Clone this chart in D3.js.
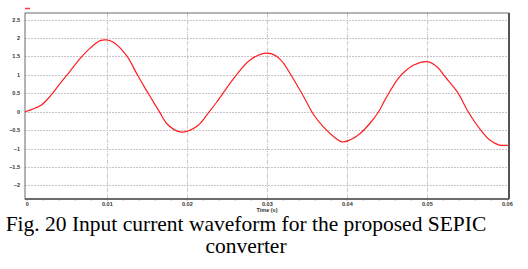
<!DOCTYPE html>
<html>
<head>
<meta charset="utf-8">
<script src="https://cdn.jsdelivr.net/npm/d3@7"></script>
<style>
  body { margin: 0; background: #fff; }
  svg { display: block; }
</style>
</head>
<body>
<div id="chart"></div>
<script>
// time (s)
const timeS = [-0.0003, 0.0016, 0.0028, 0.0041, 0.0053, 0.0066, 0.0078, 0.0091, 0.0099, 0.0108,
  0.0124, 0.0137, 0.0146, 0.0156, 0.0166, 0.0174, 0.0183, 0.0191, 0.0201, 0.0214,
  0.0226, 0.0237, 0.0257, 0.0278, 0.0299, 0.0312, 0.0320, 0.0328, 0.0345, 0.0358, 0.0370,
  0.0383, 0.0393, 0.0403, 0.0416, 0.0428, 0.0439, 0.0447, 0.0462, 0.0472, 0.0483, 0.0500,
  0.0512, 0.0522, 0.0537, 0.0551, 0.0566, 0.0578, 0.0589, 0.0601]
// input current (A)
const current = [0, 0.16, 0.41, 0.77, 1.09, 1.45, 1.72, 1.93, 1.95, 1.88,
  1.52, 1.02, 0.68, 0.32, -0.04, -0.32, -0.48, -0.55, -0.52, -0.36,
  -0.04, 0.27, 0.88, 1.40, 1.59, 1.50, 1.32, 1.05, 0.42, -0.09, -0.41,
  -0.68, -0.82, -0.77, -0.59, -0.32, 0, 0.32, 0.86, 1.10, 1.27, 1.36,
  1.22, 0.95, 0.55, 0, -0.48, -0.77, -0.90, -0.91]

const xTicks = [0, 0.01, 0.02, 0.03, 0.04, 0.05, 0.06]
const yTicks = [-2, -1.5, -1, -0.5, 0, 0.5, 1, 1.5, 2, 2.5]
const xLabel = "Time (s)"
const caption = ["Fig. 20 Input current waveform for the proposed SEPIC", "converter"]

const width = 528, height = 269
const plot = { left: 25, right: 509, top: 13, bottom: 199 }

const svg = d3.select("#chart").append("svg")
    .attr("width", width)
    .attr("height", height)

const x = d3.scaleLinear().domain([-0.0003, 0.0602]).range([plot.left, plot.right])
const y = d3.scaleLinear().domain([-2.37, 2.68]).range([plot.bottom, plot.top])

// grid
svg.append("g")
    .selectAll("line")
    .data(yTicks)
    .enter().append("line")
    .attr("x1", plot.left).attr("x2", plot.right)
    .attr("y1", d => Math.round(y(d)) + 0.5).attr("y2", d => Math.round(y(d)) + 0.5)
    .attr("stroke", "#bdb4bc")
    .attr("stroke-width", 0.8)
    .attr("stroke-dasharray", "2,1")

svg.append("g")
    .selectAll("line")
    .data(xTicks.filter(d => d > 0 && d < 0.06))
    .enter().append("line")
    .attr("x1", d => Math.round(x(d)) + 0.5).attr("x2", d => Math.round(x(d)) + 0.5)
    .attr("y1", plot.top).attr("y2", plot.bottom)
    .attr("stroke", "#b8beb8")
    .attr("stroke-width", 0.8)
    .attr("stroke-dasharray", "4,1,1,1")

// minor ticks under the time axis
svg.append("g")
    .selectAll("line")
    .data(d3.range(0, 0.0601, 0.002))
    .enter().append("line")
    .attr("x1", d => x(d)).attr("x2", d => x(d))
    .attr("y1", plot.bottom).attr("y2", plot.bottom + 2)
    .attr("stroke", "#c9a9c4")
    .attr("stroke-width", 0.8)

// frame
svg.append("rect")
    .attr("x", plot.left).attr("y", plot.top)
    .attr("width", plot.right - plot.left).attr("height", plot.bottom - plot.top)
    .attr("fill", "none")
    .attr("stroke", "#6a6a6a")
    .attr("stroke-width", 1)
svg.append("line")
    .attr("x1", plot.right).attr("x2", plot.right)
    .attr("y1", plot.top).attr("y2", plot.bottom)
    .attr("stroke", "#555")
    .attr("stroke-width", 2)
svg.append("line")
    .attr("x1", plot.left).attr("x2", plot.right)
    .attr("y1", plot.bottom).attr("y2", plot.bottom)
    .attr("stroke", "#555")
    .attr("stroke-width", 1.5)

// tick labels
svg.append("g")
    .selectAll("text")
    .data(yTicks)
    .enter().append("text")
    .attr("x", 20)
    .attr("y", d => y(d) + 2)
    .attr("text-anchor", "end")
    .attr("font-family", "Arial, 'Liberation Sans', sans-serif")
    .attr("font-size", 5.5)
    .attr("font-weight", "bold")
    .attr("fill", "#333")
    .text(d => d3.format("")(d))

svg.append("g")
    .selectAll("text")
    .data(xTicks)
    .enter().append("text")
    .attr("x", d => x(d))
    .attr("y", 206)
    .attr("text-anchor", "middle")
    .attr("font-family", "Arial, 'Liberation Sans', sans-serif")
    .attr("font-size", 5.5)
    .attr("font-weight", "bold")
    .attr("fill", "#333")
    .text(d => d3.format("")(d))

svg.append("text")
    .attr("x", 267)
    .attr("y", 212)
    .attr("text-anchor", "middle")
    .attr("font-family", "Arial, 'Liberation Sans', sans-serif")
    .attr("font-size", 5.5)
    .attr("font-weight", "bold")
    .attr("fill", "#333")
    .text(xLabel)

// legend swatch
svg.append("line")
    .attr("x1", 25).attr("x2", 30)
    .attr("y1", 8.5).attr("y2", 8.5)
    .attr("stroke", "#ff3b3b")
    .attr("stroke-width", 1.5)

// waveform
const line = d3.line()
    .x((d, i) => x(timeS[i]))
    .y(d => y(d))
    .curve(d3.curveCatmullRom)

svg.append("path")
    .datum(current)
    .attr("d", line)
    .attr("fill", "none")
    .attr("stroke", "#ff1e1e")
    .attr("stroke-width", 1.2)

// caption
svg.append("g")
    .selectAll("text")
    .data(caption)
    .enter().append("text")
    .attr("x", 246)
    .attr("y", (d, i) => 231 + i * 22)
    .attr("text-anchor", "middle")
    .attr("font-family", "'Liberation Serif', 'Times New Roman', serif")
    .attr("font-size", 21.5)
    .attr("fill", "#000")
    .text(d => d)
</script>
</body>
</html>
